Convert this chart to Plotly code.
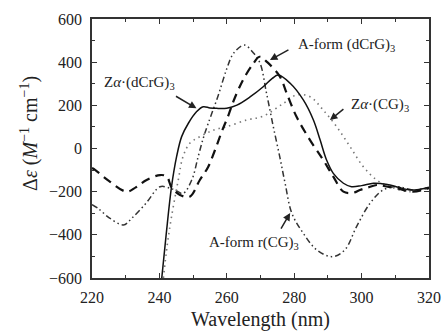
import plotly.graph_objects as go

# Zα·(dCrG)3 (solid)
wl_za_dcrg = [240.7, 242.0, 243.6, 245.1, 246.6, 248.6, 251.0, 253.0, 255.0, 257.0, 260.0, 263.0, 267.0,
              270.8, 273.5, 275.3, 278.8, 282.7, 285.7, 287.7, 289.6, 291.6, 294.6, 297.0, 300.0, 303.5,
              306.0, 308.4, 311.0, 314.4, 317.0, 320.0]
de_za_dcrg = [-600, -400, -177, -38, 55, 117, 170, 193, 188, 186, 187, 201, 240,
              286, 325, 340, 302, 225, 132, 39, -53, -115, -161, -177, -172, -161,
              -163, -169, -180, -192, -190, -180]

# A-form (dCrG)3 (dashed)
wl_a_dcrg = [220.0, 221.0, 225.0, 230.3, 233.0, 236.2, 240.2, 242.2, 243.6, 246.1, 249.0, 252.0, 254.5,
             256.5, 258.5, 260.5, 262.0, 264.9, 267.9, 269.7, 272.0, 275.8, 277.8, 280.7, 284.7, 288.6,
             291.6, 294.6, 297.5, 299.5, 302.0, 304.5, 307.0, 310.4, 315.3, 320.0]
de_a_dcrg = [-90, -100, -150, -200, -180, -146, -123, -130, -180, -215, -223, -146, -84,
             -7, 78, 155, 220, 320, 394, 425, 400, 332, 255, 147, 39, -53,
             -130, -200, -205, -192, -180, -169, -175, -184, -200, -183]

# A-form r(CG)3 (dash-dot-dot)
wl_a_rcg = [220.0, 222.0, 225.0, 229.3, 232.0, 236.0, 240.2, 243.1, 244.6, 247.0, 249.6, 251.5, 253.0,
            254.5, 257.5, 260.0, 262.0, 265.2, 268.0, 269.9, 271.8, 273.8, 275.8, 277.3, 279.3, 282.7,
            286.7, 291.3, 295.0, 298.5, 302.5, 306.4, 310.4, 315.3, 320.0]
de_a_rcg = [-260, -280, -320, -354, -320, -254, -177, -184, -192, -208, -146, -38, 47,
            117, 248, 370, 441, 479, 441, 394, 255, 101, -45, -161, -300, -393,
            -470, -501, -470, -362, -254, -192, -177, -192, -184]

# Zα·(CG)3 (dotted)
wl_za_cg = [241.2, 242.3, 243.6, 245.6, 247.0, 249.0, 252.0, 255.0, 257.0, 260.0, 265.9, 270.8, 276.8,
            280.7, 284.7, 288.6, 292.6, 296.6, 300.5, 304.5, 308.4, 314.4, 320.0]
de_za_cg = [-600, -450, -316, -146, -38, 24, 55, 78, 90, 101, 132, 150, 209,
            248, 240, 178, 101, 8, -84, -146, -177, -200, -177]

x_ticks = [220, 240, 260, 280, 300, 320]
y_ticks = [-600, -400, -200, 0, 200, 400, 600]

FONT = "Liberation Serif"

fig = go.Figure()
fig.add_trace(go.Scatter(x=wl_a_rcg, y=de_a_rcg, mode="lines", line_shape="spline",
                         line=dict(color="#333333", width=1.5, dash="6px,3px,1.5px,3px,1.5px,3px")))
fig.add_trace(go.Scatter(x=wl_za_cg, y=de_za_cg, mode="lines", line_shape="spline",
                         line=dict(color="#777777", width=1.6, dash="1.5px,4px")))
fig.add_trace(go.Scatter(x=wl_a_dcrg, y=de_a_dcrg, mode="lines", line_shape="spline",
                         line=dict(color="#111111", width=2.2, dash="9px,6px")))
fig.add_trace(go.Scatter(x=wl_za_dcrg, y=de_za_dcrg, mode="lines", line_shape="spline",
                         line=dict(color="#111111", width=1.5)))

axis_common = dict(showgrid=False, zeroline=False, showline=True, linecolor="#333333", linewidth=1.5,
                   mirror="ticks", ticks="inside", ticklen=5, tickwidth=1.2, tickcolor="#333333",
                   automargin=False,
                   tickfont=dict(family=FONT, size=16, color="#222222"))

fig.update_xaxes(range=[220, 320], tickvals=x_ticks, ticklabelstandoff=4,
                 minor=dict(ticks="inside", ticklen=3, dtick=10, tickcolor="#333333"), **axis_common)
fig.update_yaxes(range=[-600, 600], tickvals=y_ticks, ticklabelstandoff=5,
                 minor=dict(ticks="inside", ticklen=3, dtick=100, tickcolor="#333333"), **axis_common)

ann_font = dict(family=FONT, size=15, color="#222222")
annotations = [
    dict(x=234.2, y=303, text="Z<i>α</i>·(dCrG)<sub>3</sub>", showarrow=False, font=ann_font),
    dict(x=295.5, y=479, text="A-form (dCrG)<sub>3</sub>", showarrow=False, font=ann_font),
    dict(x=305.5, y=201, text="Z<i>α</i>·(CG)<sub>3</sub>", showarrow=False, font=ann_font),
    dict(x=268.1, y=-437, text="A-form r(CG)<sub>3</sub>", showarrow=False, font=ann_font),
    dict(x=251.0, y=186, ax=-22, ay=-13, text="", showarrow=True, arrowhead=2, arrowsize=1,
         arrowwidth=1.5, arrowcolor="#222222"),
    dict(x=272.8, y=410, ax=20, ay=-11, text="", showarrow=True, arrowhead=2, arrowsize=1,
         arrowwidth=1.5, arrowcolor="#222222"),
    dict(x=290.6, y=132, ax=15, ay=-12, text="", showarrow=True, arrowhead=2, arrowsize=1,
         arrowwidth=1.5, arrowcolor="#222222"),
    dict(x=278.8, y=-299, ax=-10, ay=17, text="", showarrow=True, arrowhead=2, arrowsize=1,
         arrowwidth=1.5, arrowcolor="#222222"),
    dict(xref="paper", yref="paper", x=-0.184, y=0.56, xanchor="center", yanchor="middle",
         textangle=-90, showarrow=False,
         text="Δ<i>ε</i> (<i>M</i><sup>−1</sup> cm<sup>−1</sup>)",
         font=dict(family=FONT, size=20, color="#222222")),
    dict(xref="paper", yref="paper", x=0.5, y=-0.162, xanchor="center", yanchor="middle",
         showarrow=False, text="Wavelength (nm)",
         font=dict(family=FONT, size=20, color="#222222")),
]

fig.update_layout(width=443, height=331, margin=dict(l=92, r=14, t=19, b=53),
                  plot_bgcolor="white", paper_bgcolor="white", showlegend=False,
                  annotations=annotations)

fig.write_html("out.html", config={"displayModeBar": False},
               post_script="document.body.style.margin='0';")
